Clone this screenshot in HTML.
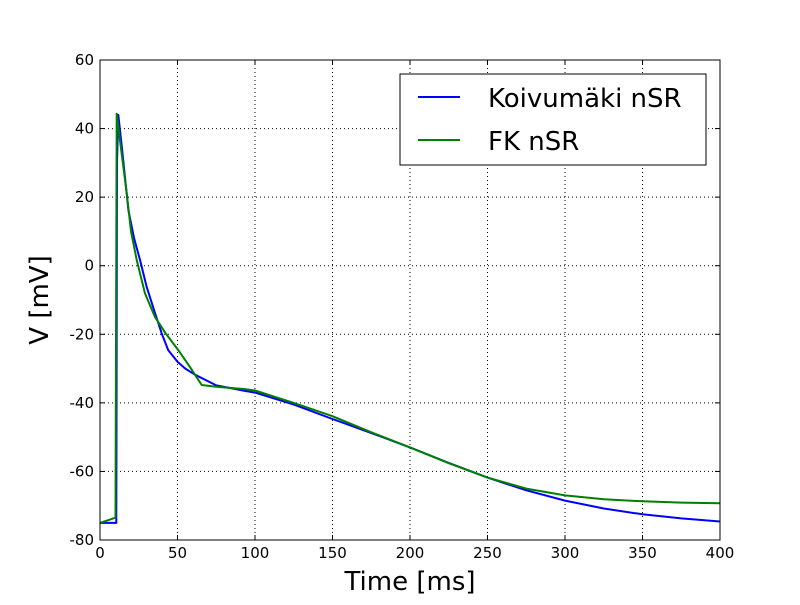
<!DOCTYPE html>
<html><head><meta charset="utf-8"><style>
body{margin:0;background:#fff}
svg text{font-family:"DejaVu Sans","Liberation Sans",sans-serif}
</style></head><body>
<svg id="c" width="800" height="600" xmlns="http://www.w3.org/2000/svg">
<rect width="800" height="600" fill="#fff"/>
<g id="grid"></g>
<g id="series"></g>
<rect x="100" y="60" width="620" height="480" fill="none" stroke="#000" stroke-width="1"/>
<g id="ticks"></g>
<text x="410" y="590" font-size="26" text-anchor="middle">Time [ms]</text>
<text x="48" y="300" font-size="26" text-anchor="middle" transform="rotate(-90 48 300)">V [mV]</text>
<g>
<rect x="400" y="74" width="306" height="91" fill="#fff" stroke="#000"/>
<line x1="418" y1="97" x2="460" y2="97" stroke="#0000ff" stroke-width="2"/>
<text x="488" y="107" font-size="26">Koivumäki nSR</text>
<line x1="418" y1="140" x2="460" y2="140" stroke="#008000" stroke-width="2"/>
<text x="488" y="150" font-size="26">FK nSR</text>
</g>
</svg>
<script>
const xTicks=[0,50,100,150,200,250,300,350,400];
const yTicks=[-80,-60,-40,-20,0,20,40,60];
const koivuT=[0,10.5,11,11.8,14,18.3,22,25.8,30,35.5,40,44,50,55,61.3,75,93.5,100,125,150,175,200,225,250,275,300,325,350,375,400];
const koivuV=[-75,-75,30,44,35,16.2,8,1.7,-6,-13.8,-20,-24.6,-28,-30,-31.8,-34.9,-36.5,-37,-40.5,-44.7,-48.8,-53,-57.5,-61.8,-65.5,-68.5,-70.8,-72.5,-73.7,-74.6];
const fkT=[0,10,10.8,13,17.2,20,23.7,29,35.5,42,50.5,58,65.6,75,93.5,100,125,150,175,200,225,250,275,300,325,350,375,400];
const fkV=[-75,-73.5,44.3,36,21.2,10,1.7,-8,-15,-19.5,-24.6,-29.5,-34.8,-35.3,-36,-36.4,-40,-43.9,-48.6,-53,-57.6,-61.8,-65,-67,-68.1,-68.7,-69.1,-69.3];
const NS='http://www.w3.org/2000/svg';
const X=t=>100+t*620/400, Y=v=>60+(60-v)*480/140;
const grid=document.getElementById('grid'),ticks=document.getElementById('ticks'),ser=document.getElementById('series');
function mk(tag,a,p){const e=document.createElementNS(NS,tag);for(const k in a)e.setAttribute(k,a[k]);p.appendChild(e);return e;}
xTicks.forEach(t=>{
 const x=X(t);
 const g=mk('line',{x1:x,y1:60,x2:x,y2:540,stroke:'#000','stroke-width':1,'stroke-dasharray':'1,3'},grid);
 
 
 mk('line',{x1:x,y1:540,x2:x,y2:535,stroke:'#000'},ticks);
 mk('line',{x1:x,y1:60,x2:x,y2:65,stroke:'#000'},ticks);
 const tx=mk('text',{x:x,y:558,'font-size':15,'text-anchor':'middle'},ticks);tx.textContent=t;
 
 
});
yTicks.forEach(v=>{
 const y=Y(v);
 const g=mk('line',{x1:100,y1:y,x2:720,y2:y,stroke:'#000','stroke-width':1,'stroke-dasharray':'1,3'},grid);
 
 
 mk('line',{x1:100,y1:y,x2:105,y2:y,stroke:'#000'},ticks);
 mk('line',{x1:720,y1:y,x2:715,y2:y,stroke:'#000'},ticks);
 const tx=mk('text',{x:94,y:y+5,'font-size':15,'text-anchor':'end'},ticks);tx.textContent=v;
 
 
});
function line(T,V,col,name){
 const pts=T.map((t,i)=>X(t).toFixed(1)+','+Y(V[i]).toFixed(1)).join(' ');
 const p=mk('polyline',{points:pts,fill:'none',stroke:col,'stroke-width':2,'stroke-linejoin':'round'},ser);
 
 
}
line(koivuT,koivuV,'#0000ff','koivumaki-line');
line(fkT,fkV,'#008000','fk-line');
</script>
</body></html>
